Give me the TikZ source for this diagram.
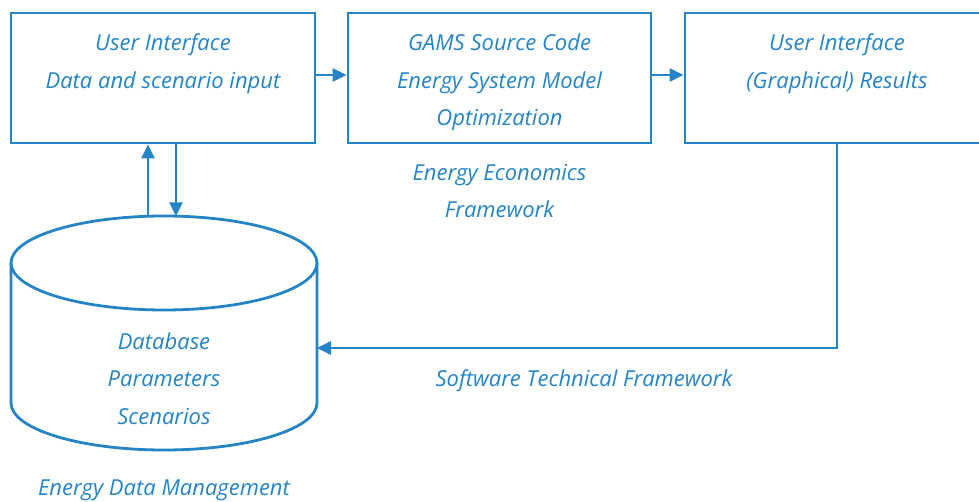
\documentclass[tikz,border=0pt]{standalone}
\usepackage{fontspec}
\setmainfont{Open Sans}
\usetikzlibrary{arrows.meta, positioning, calc}
\definecolor{esblue}{RGB}{36,132,198}
\tikzstyle{block} = [rectangle, draw=esblue, line width=2.8pt, minimum width=304pt, minimum height=130pt]
\tikzstyle{label-text} = [text=esblue, font=\fontsize{22}{37.5}\itshape\selectfont, align=center, inner sep=0pt]
\tikzstyle{line} = [draw=esblue, line width=2.8pt]
\tikzstyle{arrow} = [line, -{Triangle[length=14pt,width=13pt]}]

\begin{document}
\begin{tikzpicture}[x=1pt, y=-1pt]
\useasboundingbox (0,0) rectangle (979,502);

% Model chain
\node (ui-in) [block] at (163,78) {};
\node (gams) [block, minimum width=303pt] at (499.5,78) {};
\node (ui-out) [block] at (837,78) {};

\node (ui-in-txt) [label-text, below=22pt of ui-in.north] {User Interface\\Data and scenario input};
\node (gams-txt) [label-text, below=22pt of gams.north] {GAMS Source Code\\Energy System Model\\Optimization};
\node (ui-out-txt) [label-text, below=22pt of ui-out.north] {User Interface\\(Graphical) Results};

\draw [arrow] ([yshift=3pt]ui-in.east) -- ([yshift=3pt]gams.west);
\draw [arrow] ([yshift=3pt]gams.east) -- ([yshift=3pt]ui-out.west);

\node (eco-lbl) [label-text] at (499.5,191) {Energy Economics\\Framework};

% Database
\draw [line] (11,263) -- (11,403) arc[start angle=180, end angle=0, x radius=153, y radius=47] -- (317,263);
\draw [line] (164,263) ellipse [x radius=153, y radius=47];
\node (db) [label-text] at (164,378.5) {Database\\Parameters\\Scenarios};
\node (dm-lbl) [label-text] at (164,490) {Energy Data Management};

\coordinate (db-out) at (148,216.3);
\coordinate (db-in) at (176,216.3);
\coordinate (db-side) at (317,348);

\draw [arrow] (db-out) -- (db-out |- ui-in.south);
\draw [arrow] (ui-in.south -| db-in) -- (db-in);
\draw [arrow] (ui-out.south) |- (db-side);

\node (sw-lbl) [label-text] at (584,381) {Software Technical Framework};

\end{tikzpicture}
\end{document}
